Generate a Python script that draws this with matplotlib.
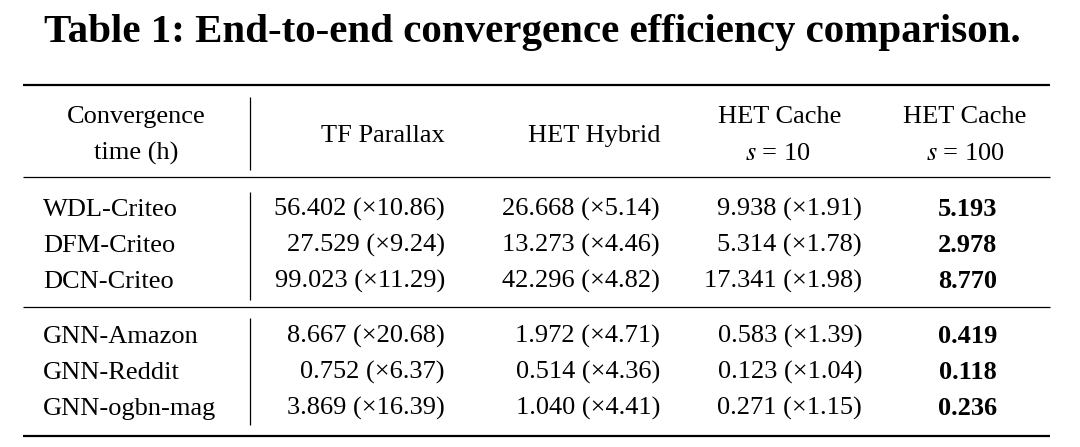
import matplotlib.pyplot as plt

plt.rcParams['font.family'] = ['Liberation Serif', 'DejaVu Serif']
plt.rcParams['mathtext.fontset'] = 'stix'

# table data
models = ['WDL-Criteo', 'DFM-Criteo', 'DCN-Criteo', 'GNN-Amazon', 'GNN-Reddit', 'GNN-ogbn-mag']
tf_parallax = [56.402, 27.529, 99.023, 8.667, 0.752, 3.869]
tf_speedup = [10.86, 9.24, 11.29, 20.68, 6.37, 16.39]
het_hybrid = [26.668, 13.273, 42.296, 1.972, 0.514, 1.040]
hybrid_speedup = [5.14, 4.46, 4.82, 4.71, 4.36, 4.41]
het_cache10 = [9.938, 5.314, 17.341, 0.583, 0.123, 0.271]
cache10_speedup = [1.91, 1.78, 1.98, 1.39, 1.04, 1.15]
het_cache100 = [5.193, 2.978, 8.770, 0.419, 0.118, 0.236]

title = 'Table 1: End-to-end convergence efficiency comparison.'

fig = plt.figure(figsize=(10.8, 4.47), dpi=100)
ax = fig.add_axes([0, 0, 1, 1])
ax.set_xlim(0, 1080)
ax.set_ylim(447, 0)
ax.axis('off')

fs = 19
ax.text(532, 42, title, fontsize=29.5, fontweight='bold', ha='center', va='baseline')

# rules
ax.hlines([85, 436], 23, 1050, color='black', linewidth=1.6)
ax.hlines([177, 307], 23, 1050, color='black', linewidth=0.9)
ax.vlines(250, 97, 170, color='black', linewidth=0.9)
ax.vlines(250, 192, 300, color='black', linewidth=0.9)
ax.vlines(250, 318, 425, color='black', linewidth=0.9)

# header
ax.text(136, 123, 'Convergence', fontsize=fs, ha='center', va='baseline')
ax.text(136, 160, 'time (h)', fontsize=fs, ha='center', va='baseline')
ax.text(445, 142, 'TF Parallax', fontsize=fs, ha='right', va='baseline')
ax.text(660, 142, 'HET Hybrid', fontsize=fs, ha='right', va='baseline')
ax.text(780, 123, 'HET Cache', fontsize=fs, ha='center', va='baseline')
ax.text(778, 160, '$s$ = 10', fontsize=fs, ha='center', va='baseline')
ax.text(965, 123, 'HET Cache', fontsize=fs, ha='center', va='baseline')
ax.text(965, 160, '$s$ = 100', fontsize=fs, ha='center', va='baseline')

# body rows
baselines = [216, 252, 288, 343, 379, 415]
for i, name in enumerate(models):
    y = baselines[i]
    ax.text(43, y, name, fontsize=fs, ha='left', va='baseline')
    ax.text(445, y, '%.3f (\u00d7%.2f)' % (tf_parallax[i], tf_speedup[i]), fontsize=fs, ha='right', va='baseline')
    ax.text(660, y, '%.3f (\u00d7%.2f)' % (het_hybrid[i], hybrid_speedup[i]), fontsize=fs, ha='right', va='baseline')
    ax.text(862, y, '%.3f (\u00d7%.2f)' % (het_cache10[i], cache10_speedup[i]), fontsize=fs, ha='right', va='baseline')
    ax.text(997, y, '%.3f' % het_cache100[i], fontsize=fs, fontweight='bold', ha='right', va='baseline')

fig.savefig('out.png', dpi=100)
